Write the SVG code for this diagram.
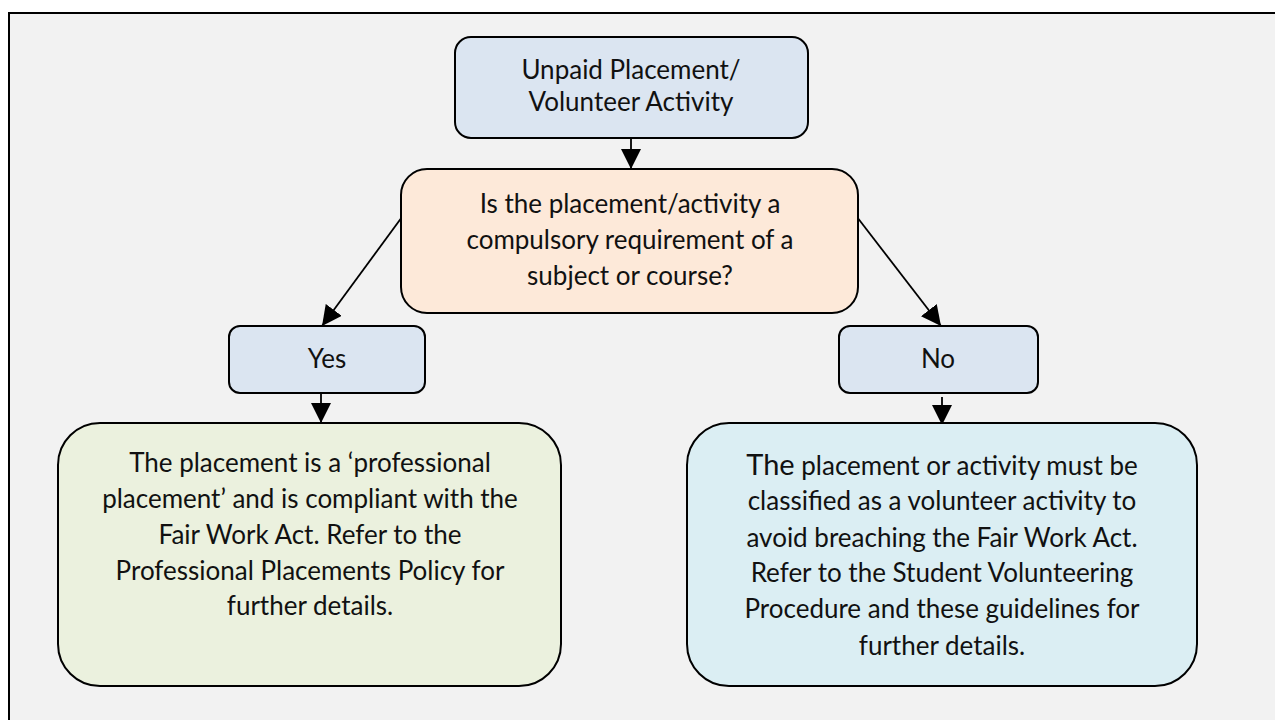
<svg xmlns="http://www.w3.org/2000/svg" width="1275" height="720" viewBox="0 0 1275 720">
  <style>
    .node rect { stroke: #000; stroke-width: 2; }
    .lbl { font-family: Lato, "Open Sans", "Liberation Sans", sans-serif; font-size: 26px; fill: #111; text-anchor: middle; }
    .conn { stroke: #000; stroke-width: 1.8; fill: none; marker-end: url(#arr); }
  </style>
  <defs>
    <marker id="arr" markerUnits="userSpaceOnUse" markerWidth="20" markerHeight="20" refX="20" refY="10" orient="auto" viewBox="0 0 20 20">
      <path d="M0,0 L20,10 L0,20 z" fill="#000"/>
    </marker>
  </defs>
  <rect x="0" y="0" width="1275" height="720" fill="#ffffff"/>
  <rect x="9" y="13" width="1280" height="720" fill="#f2f2f2" stroke="#000" stroke-width="2"/>

  <g id="connectors">
    <line class="conn" x1="631" y1="139" x2="631" y2="169"/>
    <line class="conn" x1="402" y1="217" x2="322" y2="326"/>
    <line class="conn" x1="857" y1="217" x2="941" y2="326"/>
    <line class="conn" x1="321" y1="394" x2="321" y2="423"/>
    <line class="conn" x1="942" y1="397" x2="942" y2="425"/>
  </g>

  <g id="start" class="node">
    <rect x="455" y="37" width="353" height="101" rx="16" fill="#dbe5f1"/>
    <text class="lbl" x="631" y="79">Unpaid Placement/</text>
    <text class="lbl" x="631" y="111">Volunteer Activity</text>
  </g>

  <g id="question" class="node">
    <rect x="401" y="169" width="457" height="144" rx="26" fill="#fde9d9"/>
    <text class="lbl" x="630" y="213">Is the placement/activity a</text>
    <text class="lbl" x="630" y="249">compulsory requirement of a</text>
    <text class="lbl" x="630" y="285">subject or course?</text>
  </g>

  <g id="yes" class="node">
    <rect x="229" y="326" width="196" height="67" rx="11" fill="#dbe5f1"/>
    <text class="lbl" x="327" y="368">Yes</text>
  </g>

  <g id="no" class="node">
    <rect x="839" y="326" width="199" height="67" rx="11" fill="#dbe5f1"/>
    <text class="lbl" x="938" y="368">No</text>
  </g>

  <g id="professional" class="node">
    <rect x="58" y="423" width="503" height="263" rx="42" fill="#ebf1de"/>
    <text class="lbl" x="310" y="472">The placement is a ‘professional</text>
    <text class="lbl" x="310" y="508">placement’ and is compliant with the</text>
    <text class="lbl" x="310" y="544">Fair Work Act. Refer to the</text>
    <text class="lbl" x="310" y="580">Professional Placements Policy for</text>
    <text class="lbl" x="310" y="615">further details.</text>
  </g>

  <g id="volunteer" class="node">
    <rect x="687" y="423" width="510" height="263" rx="42" fill="#dbeef3"/>
    <text class="lbl" x="942" y="475"><tspan font-size="29">The</tspan> placement or activity must be</text>
    <text class="lbl" x="942" y="510">classified as a volunteer activity to</text>
    <text class="lbl" x="942" y="547">avoid breaching the Fair Work Act.</text>
    <text class="lbl" x="942" y="582">Refer to the Student Volunteering</text>
    <text class="lbl" x="942" y="618">Procedure and these guidelines for</text>
    <text class="lbl" x="942" y="655">further details.</text>
  </g>
</svg>
